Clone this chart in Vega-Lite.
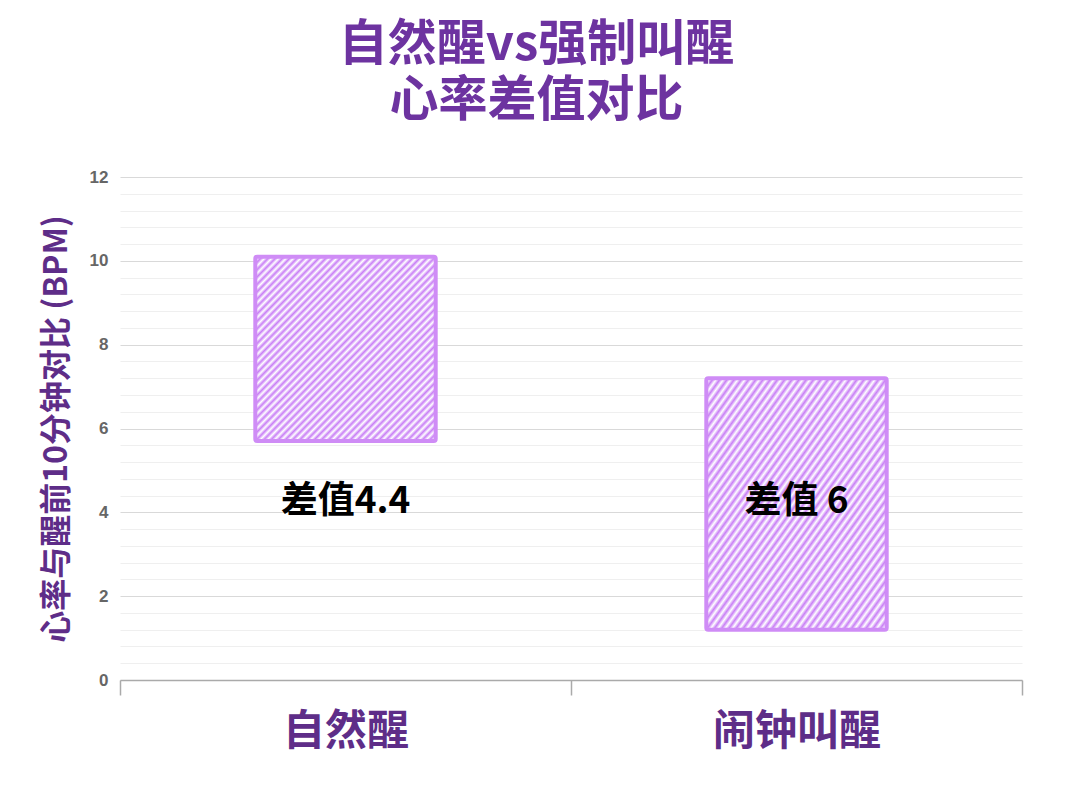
{
  "$schema": "https://vega.github.io/schema/vega-lite/v6.json",
  "width": 902,
  "height": 503,
  "autosize": {"type": "none"},
  "padding": {"left": 120, "top": 177, "right": 58, "bottom": 109},
  "background": "white",
  "title": {
    "text": ["自然醒vs强制叫醒", "心率差值对比"],
    "font": "Noto Sans CJK SC",
    "fontSize": 49,
    "fontWeight": "bold",
    "color": "#6d33a0",
    "anchor": "middle",
    "frame": "bounds",
    "lineHeight": 56,
    "offset": 42,
    "dx": 5
  },
  "config": {"view": {"stroke": null}},
  "data": {
    "values": [
      {"group": "自然醒", "low": 5.7, "high": 10.1, "label": "差值4.4"},
      {"group": "闹钟叫醒", "low": 1.2, "high": 7.2, "label": "差值 6"}
    ]
  },
  "layer": [
    {
      "mark": {
        "type": "bar",
        "width": {"band": 0.4},
        "stroke": "#cf8cf6",
        "strokeWidth": 4,
        "cornerRadius": 2,
        "fill": {
          "gradient": "linear",
          "x1": 0, "y1": 0, "x2": 1, "y2": 1,
          "stops": [
            {"offset": 0.00, "color": "#c97ff6"}, {"offset": 0.01, "color": "#ffffff"},
            {"offset": 0.02, "color": "#c97ff6"}, {"offset": 0.03, "color": "#ffffff"},
            {"offset": 0.04, "color": "#c97ff6"}, {"offset": 0.05, "color": "#ffffff"},
            {"offset": 0.06, "color": "#c97ff6"}, {"offset": 0.07, "color": "#ffffff"},
            {"offset": 0.08, "color": "#c97ff6"}, {"offset": 0.09, "color": "#ffffff"},
            {"offset": 0.10, "color": "#c97ff6"}, {"offset": 0.11, "color": "#ffffff"},
            {"offset": 0.12, "color": "#c97ff6"}, {"offset": 0.13, "color": "#ffffff"},
            {"offset": 0.14, "color": "#c97ff6"}, {"offset": 0.15, "color": "#ffffff"},
            {"offset": 0.16, "color": "#c97ff6"}, {"offset": 0.17, "color": "#ffffff"},
            {"offset": 0.18, "color": "#c97ff6"}, {"offset": 0.19, "color": "#ffffff"},
            {"offset": 0.20, "color": "#c97ff6"}, {"offset": 0.21, "color": "#ffffff"},
            {"offset": 0.22, "color": "#c97ff6"}, {"offset": 0.23, "color": "#ffffff"},
            {"offset": 0.24, "color": "#c97ff6"}, {"offset": 0.25, "color": "#ffffff"},
            {"offset": 0.26, "color": "#c97ff6"}, {"offset": 0.27, "color": "#ffffff"},
            {"offset": 0.28, "color": "#c97ff6"}, {"offset": 0.29, "color": "#ffffff"},
            {"offset": 0.30, "color": "#c97ff6"}, {"offset": 0.31, "color": "#ffffff"},
            {"offset": 0.32, "color": "#c97ff6"}, {"offset": 0.33, "color": "#ffffff"},
            {"offset": 0.34, "color": "#c97ff6"}, {"offset": 0.35, "color": "#ffffff"},
            {"offset": 0.36, "color": "#c97ff6"}, {"offset": 0.37, "color": "#ffffff"},
            {"offset": 0.38, "color": "#c97ff6"}, {"offset": 0.39, "color": "#ffffff"},
            {"offset": 0.40, "color": "#c97ff6"}, {"offset": 0.41, "color": "#ffffff"},
            {"offset": 0.42, "color": "#c97ff6"}, {"offset": 0.43, "color": "#ffffff"},
            {"offset": 0.44, "color": "#c97ff6"}, {"offset": 0.45, "color": "#ffffff"},
            {"offset": 0.46, "color": "#c97ff6"}, {"offset": 0.47, "color": "#ffffff"},
            {"offset": 0.48, "color": "#c97ff6"}, {"offset": 0.49, "color": "#ffffff"},
            {"offset": 0.50, "color": "#c97ff6"}, {"offset": 0.51, "color": "#ffffff"},
            {"offset": 0.52, "color": "#c97ff6"}, {"offset": 0.53, "color": "#ffffff"},
            {"offset": 0.54, "color": "#c97ff6"}, {"offset": 0.55, "color": "#ffffff"},
            {"offset": 0.56, "color": "#c97ff6"}, {"offset": 0.57, "color": "#ffffff"},
            {"offset": 0.58, "color": "#c97ff6"}, {"offset": 0.59, "color": "#ffffff"},
            {"offset": 0.60, "color": "#c97ff6"}, {"offset": 0.61, "color": "#ffffff"},
            {"offset": 0.62, "color": "#c97ff6"}, {"offset": 0.63, "color": "#ffffff"},
            {"offset": 0.64, "color": "#c97ff6"}, {"offset": 0.65, "color": "#ffffff"},
            {"offset": 0.66, "color": "#c97ff6"}, {"offset": 0.67, "color": "#ffffff"},
            {"offset": 0.68, "color": "#c97ff6"}, {"offset": 0.69, "color": "#ffffff"},
            {"offset": 0.70, "color": "#c97ff6"}, {"offset": 0.71, "color": "#ffffff"},
            {"offset": 0.72, "color": "#c97ff6"}, {"offset": 0.73, "color": "#ffffff"},
            {"offset": 0.74, "color": "#c97ff6"}, {"offset": 0.75, "color": "#ffffff"},
            {"offset": 0.76, "color": "#c97ff6"}, {"offset": 0.77, "color": "#ffffff"},
            {"offset": 0.78, "color": "#c97ff6"}, {"offset": 0.79, "color": "#ffffff"},
            {"offset": 0.80, "color": "#c97ff6"}, {"offset": 0.81, "color": "#ffffff"},
            {"offset": 0.82, "color": "#c97ff6"}, {"offset": 0.83, "color": "#ffffff"},
            {"offset": 0.84, "color": "#c97ff6"}, {"offset": 0.85, "color": "#ffffff"},
            {"offset": 0.86, "color": "#c97ff6"}, {"offset": 0.87, "color": "#ffffff"},
            {"offset": 0.88, "color": "#c97ff6"}, {"offset": 0.89, "color": "#ffffff"},
            {"offset": 0.90, "color": "#c97ff6"}, {"offset": 0.91, "color": "#ffffff"},
            {"offset": 0.92, "color": "#c97ff6"}, {"offset": 0.93, "color": "#ffffff"},
            {"offset": 0.94, "color": "#c97ff6"}, {"offset": 0.95, "color": "#ffffff"},
            {"offset": 0.96, "color": "#c97ff6"}, {"offset": 0.97, "color": "#ffffff"},
            {"offset": 0.98, "color": "#c97ff6"}, {"offset": 0.99, "color": "#ffffff"},
            {"offset": 1.00, "color": "#c97ff6"}
          ]
        }
      },
      "encoding": {
        "x": {
          "field": "group",
          "type": "nominal",
          "sort": null,
          "scale": {"paddingInner": 0, "paddingOuter": 0},
          "axis": {
            "title": null,
            "labelAngle": 0,
            "labelFont": "Noto Sans CJK SC",
            "labelFontSize": 42,
            "labelFontWeight": "bold",
            "labelColor": "#5e2d88",
            "labelPadding": 16,
            "domainColor": "#aaaaaa",
            "domainWidth": 1.5,
            "tickColor": "#aaaaaa",
            "tickWidth": 1.5,
            "tickSize": 15,
            "tickBand": "extent",
            "grid": false
          }
        },
        "y": {
          "field": "low",
          "type": "quantitative",
          "scale": {"domain": [0, 12], "nice": false},
          "axis": {
            "values": [0, 0.4, 0.8, 1.2, 1.6, 2, 2.4, 2.8, 3.2, 3.6, 4, 4.4, 4.8, 5.2, 5.6, 6, 6.4, 6.8, 7.2, 7.6, 8, 8.4, 8.8, 9.2, 9.6, 10, 10.4, 10.8, 11.2, 11.6, 12],
            "tickCount": 40,
            "labelExpr": "datum.value % 2 === 0 ? format(datum.value, 'd') : ''",
            "labelOverlap": false,
            "labelFont": "Liberation Sans",
            "labelFontSize": 17,
            "labelFontWeight": "bold",
            "labelColor": "#666666",
            "labelPadding": 12,
            "ticks": false,
            "domain": false,
            "grid": true,
            "gridColor": {"condition": {"test": "datum.value % 2 === 0", "value": "#d9d9d9"}, "value": "#efefef"},
            "gridWidth": 1.2,
            "title": "心率与醒前10分钟对比 (BPM)",
            "titleFont": "Noto Sans CJK SC",
            "titleFontSize": 32,
            "titleFontWeight": "bold",
            "titleColor": "#5e2d88",
            "titlePadding": 16
          }
        },
        "y2": {"field": "high"}
      }
    },
    {
      "mark": {
        "type": "text",
        "font": "Noto Sans CJK SC",
        "fontSize": 37,
        "fontWeight": "bold",
        "color": "#000000"
      },
      "encoding": {
        "x": {"field": "group", "type": "nominal", "sort": null},
        "y": {"datum": 4.25, "type": "quantitative"},
        "text": {"field": "label"}
      }
    }
  ]
}
